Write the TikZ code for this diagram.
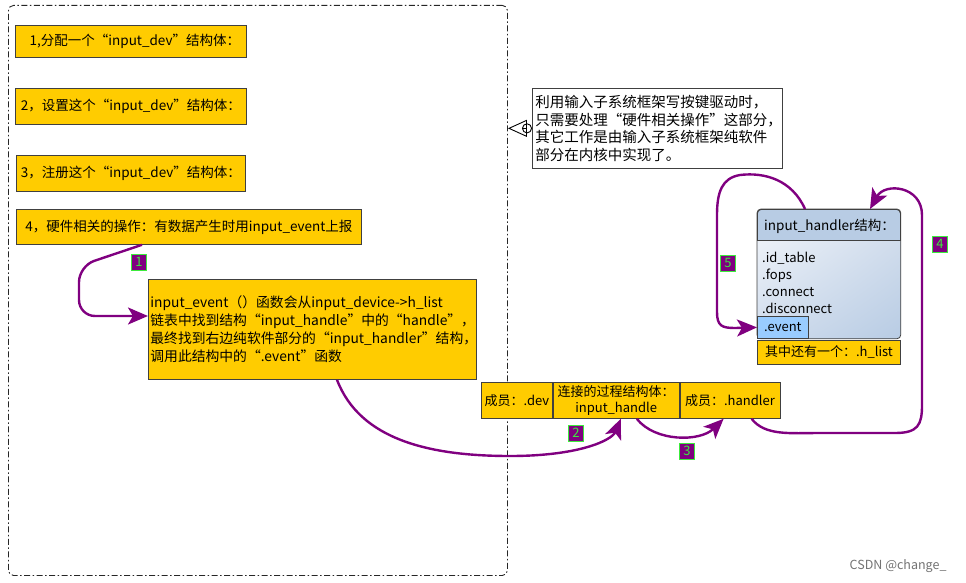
\documentclass[tikz,border=0pt]{standalone}
\usepackage{fontspec}
\setmainfont{Noto Sans CJK SC}
\usetikzlibrary{arrows.meta,positioning,shadings}
\definecolor{boxyellow}{RGB}{255,204,0}
\definecolor{boxedge}{RGB}{64,64,64}
\definecolor{flowpurple}{RGB}{128,0,128}
\definecolor{lblgreen}{RGB}{60,235,60}
\definecolor{hdllight}{RGB}{236,241,248}
\definecolor{hdlmid}{RGB}{208,220,236}
\definecolor{hdldark}{RGB}{184,204,228}
\definecolor{eventblue}{RGB}{153,204,255}

\begin{document}
\begin{tikzpicture}[x=1pt,y=-1pt,
    ybox/.style={draw=boxedge,fill=boxyellow,line width=0.8pt,inner sep=2pt,
        font=\fontsize{13.5}{18}\selectfont},
    notebox/.style={draw=black!75,fill=white,line width=0.7pt,inner xsep=3pt,inner ysep=3pt,
        align=left,font=\fontsize{14.5}{17.6}\selectfont},
    flow/.style={draw=flowpurple,line width=2.4pt,-{Stealth[length=20pt,width=17pt,inset=5pt]}},
    numlbl/.style={draw=lblgreen,fill=flowpurple,text=lblgreen,line width=0.9pt,
        inner sep=0pt,minimum width=15pt,minimum height=16pt,font=\fontsize{13}{13}\selectfont},
    frame/.style={draw=black!85,dash pattern=on 6pt off 2.5pt on 1.5pt off 2.5pt,
        line width=0.9pt,rounded corners=5pt}]

\useasboundingbox (0,0) rectangle (966,583);

% left part: driver side
\node[frame,minimum width=499pt,minimum height=570pt,anchor=north west] (frame) at (8,5) {};

\node[ybox,minimum width=231pt,minimum height=32pt,anchor=north west] (step1) at (15,25)
    {\hspace{8pt}1,分配一个“input\_dev”结构体：};
\node[ybox,minimum width=231pt,minimum height=36pt,anchor=north west] (step2) at (15,88)
    {2，设置这个“input\_dev”结构体：};
\node[ybox,minimum width=229pt,minimum height=36pt,anchor=north west] (step3) at (16,155)
    {3，注册这个“input\_dev”结构体：};
\node[ybox,minimum width=345pt,minimum height=35pt,anchor=north west] (step4) at (16,209)
    {4，硬件相关的操作：有数据产生时用input\_event上报};

\node[ybox,text width=324pt,minimum height=100pt,align=left,anchor=north west,
      font=\fontsize{13.8}{18}\selectfont] (evt) at (148,279)
    {input\_event（）函数会从input\_device->h\_list\\
     链表中找到结构“input\_handle”中的“handle”，\\
     最终找到右边纯软件部分的“input\_handler”结构，\\
     调用此结构中的“.event”函数};

% the connecting structure
\node[ybox,minimum width=71pt,minimum height=36pt,anchor=north west,inner sep=1pt,
      font=\fontsize{13}{16}\selectfont] (dev) at (481,382)
    {成员：.dev};
\node[ybox,minimum width=126pt,minimum height=36pt,align=center,inner sep=1pt,
      font=\fontsize{13}{16}\selectfont] (handle) [right=0pt of dev]
    {连接的过程结构体：\\input\_handle};
\node[ybox,minimum width=100pt,minimum height=36pt,inner sep=1pt,
      font=\fontsize{13}{16}\selectfont] (handler) [right=0pt of handle]
    {成员：.handler};

% note
\node[notebox,text width=244pt,minimum height=80pt,anchor=north west] (note) at (532,88)
    {利用输入子系统框架写按键驱动时，\\
     只需要处理“硬件相关操作”这部分，\\
     其它工作是由输入子系统框架纯软件\\
     部分在内核中实现了。};
\draw[black,line width=0.9pt,{Circle[open,length=10pt,width=10pt]}-{Triangle[open,length=19pt,width=17pt]}]
    (note.west) -- (frame.east |- note.west);

% input_handler
\node[draw=boxedge,fill=hdldark,rounded corners=4pt,line width=0.8pt,
      minimum width=143pt,minimum height=129pt,anchor=north west] (hdl) at (757,209) {};
\begin{scope}
  \clip[rounded corners=4pt] (hdl.north west) rectangle (hdl.south east);
  \shade[upper left=hdllight,upper right=hdlmid,lower left=hdlmid,lower right=hdldark]
      ([yshift=-31pt]hdl.north west) rectangle (hdl.south east);
\end{scope}
\draw[boxedge,rounded corners=4pt,line width=0.8pt] (hdl.north west) rectangle (hdl.south east);
\draw[boxedge,line width=0.8pt] ([yshift=-31pt]hdl.north west) -- ([yshift=-31pt]hdl.north east);
\node[anchor=west,inner sep=0pt,font=\fontsize{13.5}{16}\selectfont] (hdlhead)
    at ([xshift=7pt,yshift=-17pt]hdl.north west) {input\_handler结构：};
\node[anchor=west,inner sep=0pt,align=left,font=\fontsize{13}{17}\selectfont] (hdlbody)
    at ([xshift=5pt,yshift=-9pt]hdl.west)
    {.id\_table\\.fops\\.connect\\.disconnect};
\node[draw=boxedge,fill=eventblue,line width=0.8pt,minimum width=51pt,minimum height=22pt,
      inner sep=0pt,anchor=south west,font=\fontsize{13}{15}\selectfont] (event)
    at (hdl.south west) {.event};
\node[ybox,minimum width=143pt,minimum height=24pt,anchor=north west,
      font=\fontsize{13}{16}\selectfont] (hlist)
    at ([yshift=-1pt]hdl.south west) {其中还有一个：.h\_list};

% call flow
\draw[flow,rounded corners=16pt] ([xshift=126pt]step4.south west) -- (79,266) -- (79,316)
    -- (evt.west |- 0,316);
\node[numlbl] (n1) at (139,262) {1};

\draw[flow] ([xshift=189pt]evt.south west) .. controls (360,440) and (430,456) .. (510,456)
    .. controls (580,456) and (612,440) .. ([xshift=68pt]handle.south west);
\node[numlbl] (n2) at (576,433) {2};

\draw[flow] ([xshift=84pt]handle.south west) .. controls (655,442) and (700,442)
    .. ([xshift=44pt]handler.south west);
\node[numlbl] (n3) at (687,451) {3};

\draw[flow] ([xshift=72pt]handler.south west) .. controls (765,436) and (790,433) .. (820,433)
    -- (895,433) .. controls (918,433) and (922,425) .. (922,405) -- (922,215)
    .. controls (922,186) and (885,182) .. ([xshift=113pt]hdl.north west);
\node[numlbl] (n4) at (940,244) {4};

\draw[flow] ([xshift=48pt]hdl.north west) .. controls (792,180) and (765,172) .. (740,175)
    .. controls (722,178) and (717,192) .. (717,215) -- (717,312)
    .. controls (717,326) and (722,328) .. (735,328) -- (event.west);
\node[numlbl] (n5) at (728,263) {5};

\node[anchor=east,text=black!55,font=\fontsize{12.5}{14}\selectfont] (mark) at (950,566)
    {CSDN @change\_};
\end{tikzpicture}
\end{document}
